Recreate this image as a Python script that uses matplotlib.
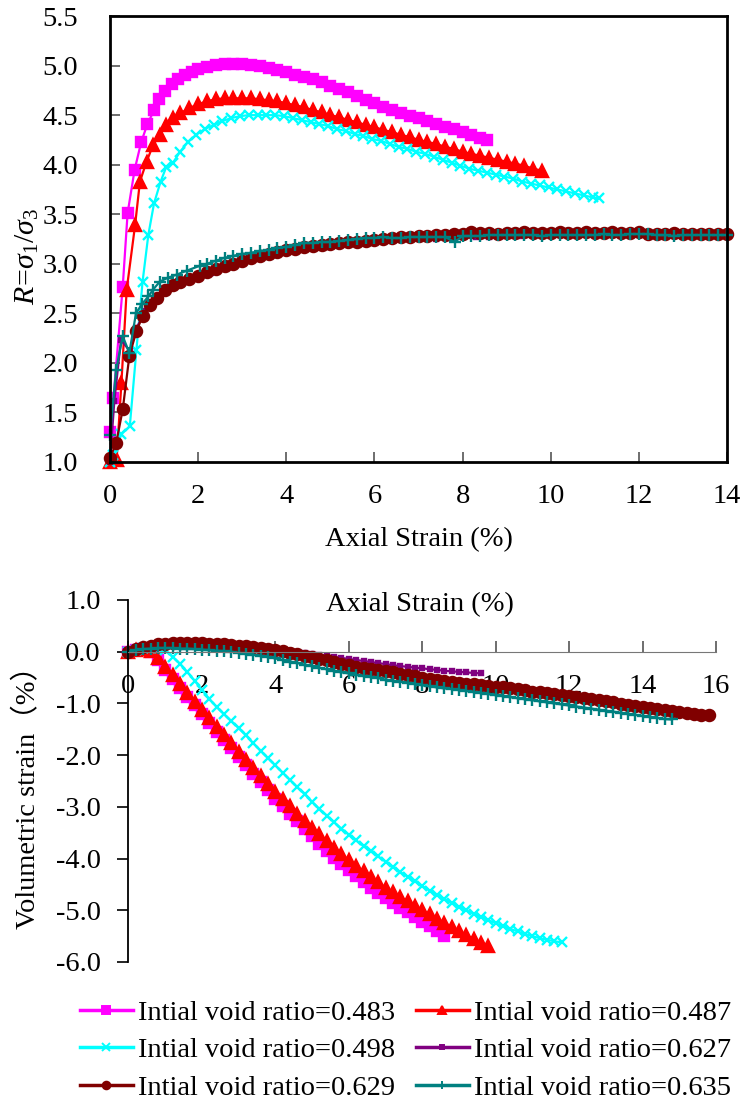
import matplotlib
matplotlib.use('Agg')
import matplotlib.pyplot as plt
from matplotlib.lines import Line2D
from matplotlib.ticker import MultipleLocator, FormatStrFormatter

plt.rcParams['font.family'] = ['Liberation Serif', 'Noto Sans CJK SC']
plt.rcParams['mathtext.fontset'] = 'custom'
plt.rcParams['mathtext.rm'] = 'Liberation Serif'
plt.rcParams['mathtext.it'] = 'Liberation Serif:italic'
plt.rcParams['axes.unicode_minus'] = False

labels = ['Intial void ratio=0.483', 'Intial void ratio=0.487', 'Intial void ratio=0.498',
          'Intial void ratio=0.627', 'Intial void ratio=0.629', 'Intial void ratio=0.635']

# ---- stress ratio R vs axial strain (top) ----
ea_483 = [0, 0.08, 0.29, 0.40, 0.56, 0.71, 0.85, 1.0, 1.12, 1.25, 1.4, 1.55, 1.7, 1.85, 2.0,
          2.2, 2.4, 2.6, 2.8, 3.0, 3.2, 3.4, 3.6, 3.8, 4.0, 4.2, 4.4, 4.6, 4.8, 5.0, 5.2, 5.4,
          5.6, 5.8, 6.0, 6.2, 6.4, 6.6, 6.8, 7.0, 7.2, 7.4, 7.6, 7.8, 8.0, 8.2, 8.4, 8.55]
R_483 = [1.30, 1.65, 2.77, 3.51, 3.95, 4.23, 4.41, 4.55, 4.66, 4.74, 4.81, 4.86, 4.91, 4.94, 4.97,
         4.99, 5.01, 5.02, 5.02, 5.02, 5.01, 5.00, 4.98, 4.96, 4.94, 4.91, 4.88, 4.86, 4.83, 4.79,
         4.76, 4.73, 4.69, 4.65, 4.62, 4.58, 4.55, 4.52, 4.49, 4.47, 4.44, 4.41, 4.38, 4.36, 4.33,
         4.30, 4.27, 4.25]

ea_487 = [0, 0.15, 0.26, 0.38, 0.57, 0.68, 0.83, 0.98, 1.13, 1.28, 1.43, 1.6, 1.8, 2.0, 2.2, 2.4,
          2.6, 2.8, 3.0, 3.2, 3.4, 3.6, 3.8, 4.0, 4.2, 4.4, 4.6, 4.8, 5.0, 5.2, 5.4, 5.6, 5.8, 6.0,
          6.2, 6.4, 6.6, 6.8, 7.0, 7.2, 7.4, 7.6, 7.8, 8.0, 8.2, 8.4, 8.6, 8.8, 9.0, 9.2, 9.4, 9.6, 9.8]
R_487 = [1.00, 1.02, 1.80, 2.74, 3.39, 3.83, 4.03, 4.20, 4.30, 4.40, 4.47, 4.52, 4.57, 4.61, 4.64,
         4.66, 4.67, 4.67, 4.67, 4.67, 4.66, 4.65, 4.64, 4.62, 4.60, 4.58, 4.55, 4.53, 4.50, 4.48,
         4.45, 4.43, 4.40, 4.38, 4.35, 4.33, 4.30, 4.28, 4.25, 4.23, 4.21, 4.18, 4.16, 4.13, 4.11,
         4.09, 4.07, 4.05, 4.03, 4.01, 3.99, 3.96, 3.94]

ea_498 = [0, 0.08, 0.26, 0.45, 0.6, 0.74, 0.87, 1.0, 1.15, 1.28, 1.43, 1.59, 1.77, 1.95, 2.15,
          2.35, 2.55, 2.75, 2.95, 3.15, 3.35, 3.55, 3.75, 3.95, 4.15, 4.35, 4.55, 4.75, 4.95, 5.15,
          5.35, 5.55, 5.75, 5.95, 6.15, 6.35, 6.55, 6.75, 6.95, 7.15, 7.35, 7.55, 7.75, 7.95, 8.15,
          8.35, 8.55, 8.75, 8.95, 9.15, 9.35, 9.55, 9.75, 9.95, 10.15, 10.35, 10.55, 10.75, 10.95, 11.1]
R_498 = [1.00, 1.07, 1.28, 1.36, 2.13, 2.82, 3.29, 3.61, 3.83, 3.98, 4.02, 4.13, 4.23, 4.30, 4.36,
         4.40, 4.44, 4.47, 4.49, 4.50, 4.50, 4.50, 4.50, 4.49, 4.47, 4.45, 4.43, 4.41, 4.39, 4.36,
         4.34, 4.31, 4.29, 4.26, 4.24, 4.21, 4.18, 4.16, 4.13, 4.11, 4.08, 4.05, 4.02, 3.99, 3.96,
         3.94, 3.92, 3.90, 3.88, 3.86, 3.83, 3.81, 3.79, 3.77, 3.75, 3.73, 3.71, 3.69, 3.67, 3.66]

ea_627 = [0, 0.1, 0.25, 0.45, 0.6, 0.8, 1.0, 1.2, 1.4, 1.6, 1.8, 2.0, 2.3, 2.6, 2.9, 3.2, 3.5,
          3.8, 4.1, 4.4, 4.7, 5.0, 5.3, 5.6, 5.9, 6.2, 6.5, 6.8, 7.1, 7.4, 7.7, 8.0, 8.3, 8.6, 8.9, 9.3]
R_627 = [1.00, 1.62, 2.23, 2.12, 2.35, 2.52, 2.62, 2.71, 2.77, 2.81, 2.84, 2.87, 2.91, 2.96, 3.00,
         3.04, 3.08, 3.11, 3.13, 3.16, 3.18, 3.19, 3.21, 3.22, 3.23, 3.24, 3.25, 3.25, 3.26, 3.25,
         3.26, 3.27, 3.27, 3.27, 3.28, 3.28]

ea_629 = [0, 0.14, 0.29, 0.44, 0.6, 0.74, 0.91, 1.06, 1.25, 1.43, 1.6, 1.8, 2.0, 2.2, 2.4, 2.6,
          2.8, 3.0, 3.2, 3.4, 3.6, 3.8, 4.0, 4.2, 4.4, 4.6, 4.8, 5.0, 5.2, 5.4, 5.6, 5.8, 6.0, 6.2,
          6.4, 6.6, 6.8, 7.0, 7.2, 7.4, 7.6, 7.8, 8.0, 8.2, 8.4, 8.6, 8.8, 9.0, 9.2, 9.4, 9.6, 9.8,
          10.0, 10.2, 10.4, 10.6, 10.8, 11.0, 11.2, 11.4, 11.6, 11.8, 12.0, 12.2, 12.4, 12.6, 12.8,
          13.0, 13.2, 13.4, 13.6, 13.8, 14.0]
R_629 = [1.04, 1.19, 1.53, 2.07, 2.32, 2.47, 2.58, 2.65, 2.74, 2.79, 2.82, 2.85, 2.88, 2.92, 2.95,
         2.98, 3.00, 3.03, 3.06, 3.08, 3.10, 3.12, 3.14, 3.15, 3.17, 3.18, 3.19, 3.20, 3.21, 3.22,
         3.22, 3.23, 3.24, 3.25, 3.26, 3.27, 3.27, 3.28, 3.28, 3.29, 3.29, 3.30, 3.30, 3.32, 3.31,
         3.31, 3.30, 3.31, 3.31, 3.32, 3.31, 3.31, 3.31, 3.32, 3.31, 3.31, 3.32, 3.31, 3.31, 3.32,
         3.31, 3.31, 3.32, 3.30, 3.30, 3.30, 3.31, 3.30, 3.30, 3.30, 3.30, 3.30, 3.30]

ea_635 = [0, 0.14, 0.29, 0.44, 0.59, 0.72, 0.87, 0.98, 1.13, 1.32, 1.51, 1.74, 2.04, 2.2, 2.4,
          2.6, 2.8, 3.0, 3.2, 3.4, 3.6, 3.8, 4.0, 4.2, 4.4, 4.6, 4.8, 5.0, 5.2, 5.4, 5.6, 5.8, 6.0,
          6.2, 6.4, 6.6, 6.8, 7.0, 7.2, 7.4, 7.6, 7.82, 8.0, 8.2, 8.4, 8.6, 8.8, 9.0, 9.2, 9.4, 9.6,
          9.8, 10.0, 10.2, 10.4, 10.6, 10.8, 11.0, 11.2, 11.4, 11.6, 11.8, 12.0, 12.2, 12.4, 12.6,
          12.8, 13.0, 13.2, 13.4, 13.6, 13.8, 14.0]
R_635 = [1.27, 1.93, 2.27, 2.10, 2.50, 2.59, 2.67, 2.74, 2.82, 2.86, 2.89, 2.93, 2.98, 3.00, 3.03,
         3.06, 3.08, 3.10, 3.11, 3.13, 3.14, 3.16, 3.17, 3.19, 3.21, 3.21, 3.22, 3.22, 3.23, 3.24,
         3.25, 3.26, 3.26, 3.27, 3.26, 3.26, 3.27, 3.27, 3.27, 3.27, 3.27, 3.22, 3.28, 3.28, 3.28,
         3.29, 3.29, 3.29, 3.29, 3.29, 3.29, 3.28, 3.29, 3.29, 3.29, 3.29, 3.29, 3.29, 3.30, 3.29,
         3.29, 3.30, 3.30, 3.30, 3.29, 3.29, 3.28, 3.29, 3.29, 3.29, 3.29, 3.29, 3.29]

# ---- volumetric strain vs axial strain (bottom) ----
ea_grid = [0.0, 0.2, 0.4, 0.6, 0.8, 1.0, 1.2, 1.4, 1.6, 1.8, 2.0, 2.2, 2.4, 2.6, 2.8, 3.0, 3.2,
           3.4, 3.6, 3.8, 4.0, 4.2, 4.4, 4.6, 4.8, 5.0, 5.2, 5.4, 5.6, 5.8, 6.0, 6.2, 6.4, 6.6,
           6.8, 7.0, 7.2, 7.4, 7.6, 7.8, 8.0, 8.2, 8.4, 8.6, 8.8, 9.0, 9.2, 9.4, 9.6, 9.8, 10.0,
           10.2, 10.4, 10.6, 10.8, 11.0, 11.2, 11.4, 11.6, 11.8, 12.0, 12.2, 12.4, 12.6, 12.8,
           13.0, 13.2, 13.4, 13.6, 13.8, 14.0, 14.2, 14.4, 14.6, 14.8, 15.0, 15.2, 15.4, 15.6, 15.8]

ev_483 = [0.0, 0.04, 0.06, 0.0, -0.17, -0.35, -0.53, -0.70, -0.87, -1.04, -1.21, -1.38, -1.55,
          -1.71, -1.87, -2.03, -2.19, -2.36, -2.52, -2.68, -2.85, -2.99, -3.14, -3.28, -3.42,
          -3.57, -3.71, -3.85, -3.98, -4.10, -4.23, -4.34, -4.45, -4.56, -4.67, -4.77, -4.86,
          -4.95, -5.04, -5.13, -5.22, -5.31, -5.41, -5.49]
ev_487 = [0.0, 0.03, 0.06, 0.02, -0.12, -0.29, -0.46, -0.63, -0.80, -0.97, -1.13, -1.29, -1.45,
          -1.61, -1.77, -1.93, -2.09, -2.24, -2.40, -2.55, -2.71, -2.85, -2.99, -3.13, -3.27,
          -3.40, -3.53, -3.66, -3.79, -3.91, -4.03, -4.14, -4.25, -4.36, -4.46, -4.56, -4.65,
          -4.74, -4.83, -4.92, -5.00, -5.08, -5.16, -5.24, -5.32, -5.40, -5.48, -5.56, -5.63, -5.70]
ev_498 = [0.0, 0.04, 0.07, 0.08, 0.07, 0.03, -0.10, -0.23, -0.39, -0.56, -0.74, -0.91, -1.07,
          -1.21, -1.34, -1.48, -1.62, -1.77, -1.92, -2.06, -2.20, -2.34, -2.48, -2.62, -2.76,
          -2.90, -3.04, -3.17, -3.30, -3.42, -3.54, -3.65, -3.76, -3.86, -3.96, -4.06, -4.16,
          -4.26, -4.35, -4.44, -4.53, -4.62, -4.70, -4.78, -4.86, -4.93, -5.00, -5.07, -5.13,
          -5.19, -5.25, -5.31, -5.36, -5.41, -5.46, -5.50, -5.54, -5.57, -5.60, -5.62]
ev_627 = [0.0, 0.05, 0.09, 0.12, 0.14, 0.15, 0.16, 0.16, 0.16, 0.16, 0.16, 0.15, 0.15, 0.14,
          0.13, 0.12, 0.11, 0.10, 0.09, 0.07, 0.06, 0.04, 0.02, 0.0, -0.02, -0.04, -0.06, -0.08,
          -0.10, -0.12, -0.14, -0.16, -0.18, -0.20, -0.22, -0.24, -0.26, -0.28, -0.29, -0.31,
          -0.32, -0.34, -0.35, -0.37, -0.38, -0.39, -0.40, -0.41, -0.42]
ev_629 = [0.0, 0.05, 0.09, 0.12, 0.14, 0.15, 0.16, 0.16, 0.16, 0.16, 0.16, 0.15, 0.15, 0.14,
          0.13, 0.12, 0.11, 0.09, 0.07, 0.05, 0.03, 0.01, -0.02, -0.05, -0.08, -0.11, -0.14,
          -0.17, -0.20, -0.23, -0.26, -0.29, -0.31, -0.34, -0.36, -0.38, -0.40, -0.43, -0.45,
          -0.47, -0.50, -0.52, -0.54, -0.56, -0.58, -0.60, -0.62, -0.63, -0.65, -0.66, -0.68,
          -0.69, -0.71, -0.73, -0.75, -0.77, -0.78, -0.80, -0.82, -0.84, -0.86, -0.88, -0.90,
          -0.92, -0.94, -0.96, -0.98, -1.01, -1.03, -1.05, -1.07, -1.09, -1.11, -1.13, -1.15,
          -1.17, -1.19, -1.20, -1.22, -1.23]
ev_635 = [0.0, 0.03, 0.05, 0.06, 0.07, 0.07, 0.07, 0.06, 0.06, 0.05, 0.04, 0.03, 0.02, 0.01,
          0.0, -0.02, -0.04, -0.06, -0.08, -0.10, -0.13, -0.16, -0.19, -0.22, -0.25, -0.28,
          -0.31, -0.34, -0.37, -0.40, -0.42, -0.45, -0.47, -0.49, -0.51, -0.54, -0.56, -0.58,
          -0.60, -0.62, -0.65, -0.67, -0.69, -0.71, -0.72, -0.74, -0.76, -0.78, -0.80, -0.82,
          -0.84, -0.86, -0.88, -0.90, -0.92, -0.94, -0.96, -0.98, -1.00, -1.02, -1.04, -1.06,
          -1.08, -1.10, -1.12, -1.14, -1.16, -1.18, -1.20, -1.22, -1.24, -1.26, -1.28, -1.30, -1.31]

colors = ['#FF00FF', '#FF0000', '#00FFFF', '#800080', '#800000', '#008080']
markers = ['s', '^', 'x', 's', 'o', '+']
msizes = [7.5, 8, 7, 3, 8, 8.5]

top_series = [(ea_483, R_483), (ea_487, R_487), (ea_498, R_498),
              (ea_627, R_627), (ea_629, R_629), (ea_635, R_635)]
bottom_series = [ev_483, ev_487, ev_498, ev_627, ev_629, ev_635]

fs = 20.5
fig = plt.figure(figsize=(7.44, 11.07), dpi=100)

# top panel
ax1 = fig.add_axes([0.1478, 0.5827, 0.8294, 0.4028])
for (x, y), c, m, ms in zip(top_series, colors, markers, msizes):
    ax1.plot(x, y, color=c, marker=m, ms=ms, mew=1.7, lw=1.6, clip_on=False)
ax1.set_xlim(0, 14)
ax1.set_ylim(1.0, 5.5)
ax1.xaxis.set_major_locator(MultipleLocator(2))
ax1.yaxis.set_major_locator(MultipleLocator(0.5))
ax1.yaxis.set_major_formatter(FormatStrFormatter('%.1f'))
ax1.tick_params(axis='x', direction='in', length=7, width=1.2, color='#555555',
                labelsize=fs, pad=16)
ax1.tick_params(axis='y', direction='in', length=7, width=1.2, color='#555555',
                labelsize=fs, pad=23)
for sp in ax1.spines.values():
    sp.set_linewidth(2)
ax1.set_xlabel('Axial Strain (%)', fontsize=fs)
ax1.xaxis.set_label_coords(0.5, -0.145)
ax1.set_ylabel(r'$R\!=\!\sigma_1/\sigma_3$', fontsize=fs + 1)
ax1.yaxis.set_label_coords(-0.112, 0.46)

# bottom panel
ax2 = fig.add_axes([0.1727, 0.131, 0.7897, 0.327])
for ev, c, m, ms in zip(bottom_series, colors, markers, msizes):
    ax2.plot(ea_grid[:len(ev)], ev, color=c, marker=m, ms=ms, mew=1.7, lw=1.6, clip_on=False)
ax2.set_xlim(0, 16)
ax2.set_ylim(-6.0, 1.0)
ax2.xaxis.set_major_locator(MultipleLocator(2))
ax2.yaxis.set_major_locator(MultipleLocator(1.0))
ax2.yaxis.set_major_formatter(FormatStrFormatter('%.1f'))
ax2.spines['top'].set_visible(False)
ax2.spines['right'].set_visible(False)
ax2.spines['bottom'].set_position(('data', 0))
ax2.spines['bottom'].set_color('#777777')
ax2.spines['left'].set_linewidth(1.3)
ax2.tick_params(axis='x', direction='in', length=8, width=1.2, color='#555555',
                labelsize=fs, pad=16)
ax2.tick_params(axis='y', direction='out', length=8, width=1.2, labelsize=fs, pad=12)
ax2.set_ylabel('Volumetric strain（%）', fontsize=fs)
ax2.yaxis.set_label_coords(-0.148, 0.475)
ax2.text(0.496, 0.986, 'Axial Strain (%)', transform=ax2.transAxes, fontsize=fs,
         ha='center', va='center')

# legend, row order as in the source figure
handles = [Line2D([], [], color=c, marker=m, ms=3.5 if i == 3 else 5.5,
                  mew=1.4, lw=2.5) for i, (c, m) in enumerate(zip(colors, markers))]
order = [0, 2, 4, 1, 3, 5]
fig.legend([handles[i] for i in order], [labels[i] for i in order], ncol=2,
           loc='upper left', bbox_to_anchor=(0.1075, 0.0965), frameon=False,
           fontsize=fs, handlelength=1.85, handletextpad=0.2, columnspacing=0.72,
           labelspacing=0.4, borderaxespad=0, borderpad=0)

fig.savefig('out.png', dpi=100)
